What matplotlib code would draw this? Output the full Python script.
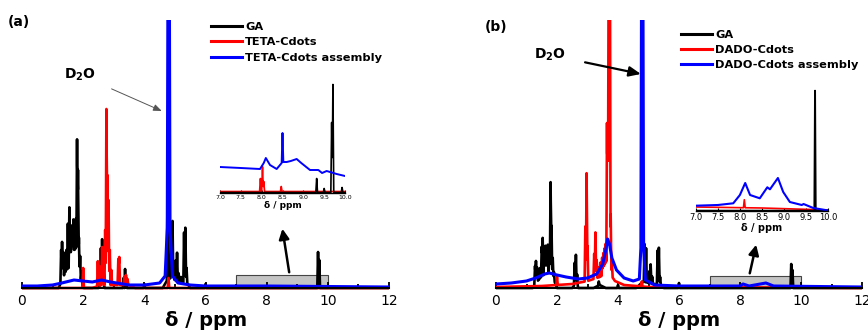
import numpy as np
import matplotlib
matplotlib.use('Agg')
import matplotlib.pyplot as plt
from matplotlib.patches import Rectangle

# ---------------- data (ppm, intensity in arbitrary units) ----------------
# Panel (a)
ga_a_bg_x = [0, 1.2, 1.28, 1.45, 1.6, 1.75, 1.9, 2.0, 2.5, 2.6, 2.7, 4.6, 4.75, 4.85, 5.0, 5.2, 5.4, 5.5, 12]
ga_a_bg_y = [0, 0, 6, 18, 22, 25, 12, 0, 0, 6, 0, 0, 8, 10, 8, 6, 5, 0, 0]
ga_a_pk_x = [1.28, 1.31, 1.35, 1.40, 1.45, 1.50, 1.55, 1.58, 1.62, 1.65, 1.68, 1.72, 1.76, 1.80, 1.83, 1.86,
             1.90, 1.95, 2.58, 2.62, 2.66, 3.32, 3.37, 3.41, 4.0, 4.76, 4.88, 4.92, 4.96, 5.03, 5.07, 5.12,
             5.20, 5.30, 5.34, 5.38, 6.0, 9.68, 9.72]
ga_a_pk_h = [32, 38, 25, 12, 20, 45, 60, 35, 40, 30, 45, 35, 45, 128, 100, 35,
             20, 10, 35, 44, 20, 10, 19, 10, 4, 95, 55, 58, 15, 20, 28, 8,
             5, 50, 55, 15, 4, 36, 28]
teta_pk_x = [2.0, 2.48, 2.52, 2.62, 2.66, 2.72, 2.76, 2.79, 2.83, 2.87, 2.92, 3.15, 3.18, 3.35, 3.40, 3.45, 4.79]
teta_pk_h = [20, 25, 20, 38, 22, 55, 176, 110, 85, 35, 15, 26, 28, 8, 10, 6, 10]
teta_bg_x = [0, 2.3, 2.6, 3.0, 3.5, 3.7, 12]
teta_bg_y = [0, 0, 3, 3, 3, 0, 0]
teta_asm_x = [0, 0.5, 1.0, 1.3, 1.7, 2.0, 2.3, 2.6, 2.9, 3.3, 3.5, 4.0, 4.5, 4.68, 4.75, 4.78, 4.81,
              4.84, 4.92, 5.1, 5.5, 6.0, 8.0, 12]
teta_asm_y = [2, 2, 3, 5, 8, 7, 6, 8, 6, 4, 3, 3, 5, 12, 60, 400, 400, 60, 12, 5, 3, 2, 2, 1]

# inset (a)
ins_a_asm_x = [7.0, 7.5, 7.96, 8.05, 8.10, 8.2, 8.36, 8.48, 8.50, 8.52, 8.6, 8.7, 8.84, 8.95, 9.16, 9.36,
               9.45, 9.56, 9.8, 10.0]
ins_a_asm_y = [26, 25, 24, 30, 35, 28, 24, 30, 60, 31, 31, 32, 34, 30, 23, 23, 20, 22, 19, 17]
ins_a_teta_pk_x = [7.97, 8.02, 8.05, 8.47]
ins_a_teta_pk_h = [13, 25, 10, 5]
ins_a_ga_pk_x = [9.32, 9.50, 9.68, 9.71, 9.93]
ins_a_ga_pk_h = [14, 4, 70, 108, 5]

# Panel (b)
ga_b_bg_x = [0, 1.2, 1.28, 1.45, 1.6, 1.75, 1.9, 2.0, 2.5, 2.6, 2.7, 3.2, 3.4, 3.6, 4.6, 4.8, 4.9, 5.0, 5.2, 5.4, 5.5, 12]
ga_b_bg_y = [0, 0, 4, 10, 14, 16, 8, 0, 0, 4, 0, 0, 3, 0, 0, 6, 6, 5, 4, 3, 0, 0]
ga_b_pk_x = [1.28, 1.31, 1.35, 1.45, 1.50, 1.53, 1.58, 1.62, 1.66, 1.70, 1.75, 1.79, 1.82, 1.86, 1.90,
             2.58, 2.62, 2.66, 3.37, 4.0, 4.87, 4.92, 5.03, 5.07, 5.12, 5.30, 5.34, 5.38, 6.0, 9.68, 9.72]
ga_b_pk_h = [18, 22, 14, 10, 30, 38, 22, 28, 20, 28, 22, 92, 50, 20, 8,
             22, 30, 12, 4, 3, 38, 34, 12, 19, 7, 34, 37, 8, 5, 24, 18]
dado_pk_x = [2.0, 2.93, 2.97, 3.00, 3.22, 3.26, 3.30, 3.35, 3.42, 3.48, 3.52, 3.56, 3.60, 3.64, 3.67,
             3.70, 3.73, 3.76, 3.80, 4.78]
dado_pk_h = [8, 55, 108, 35, 25, 46, 18, 10, 14, 18, 22, 26, 30, 150, 140, 400, 400, 60, 15, 5]
dado_bg_x = [0, 1.5, 2.5, 3.0, 3.4, 3.7, 3.9, 4.2, 5.0, 12]
dado_bg_y = [1, 2, 4, 7, 11, 16, 7, 3, 1, 0]
dado_asm_x = [0, 0.5, 1.0, 1.3, 1.6, 1.75, 2.0, 2.3, 2.7, 3.0, 3.3, 3.5, 3.6, 3.66, 3.72, 3.8, 3.95,
              4.2, 4.5, 4.7, 4.75, 4.78, 4.81, 4.84, 4.9, 5.2, 6.0, 7.5, 8.0, 8.1, 8.3, 8.85, 9.1, 12]
dado_asm_y = [4, 5, 7, 10, 14, 15, 13, 11, 9, 10, 14, 24, 38, 49, 44, 30, 18,
              10, 7, 9, 40, 400, 400, 40, 8, 3, 2, 2, 2, 4, 2, 5, 2, 1]

# inset (b)
ins_b_asm_x = [7.0, 7.5, 7.85, 8.0, 8.12, 8.23, 8.45, 8.62, 8.68, 8.86, 8.98, 9.13, 9.40, 9.44, 9.66, 10.0]
ins_b_asm_y = [5.3, 6, 7.7, 16, 28, 16, 12.7, 23.7, 21.7, 33, 19, 9, 6, 7, 3, 0.5]
ins_b_dado_bg_x = [7.0, 8.5, 10.0]
ins_b_dado_bg_y = [4, 3, 1]
ins_b_dado_pk_x = [8.10]
ins_b_dado_pk_h = [8]
ins_b_ga_pk_x = [9.70]
ins_b_ga_pk_h = [120]

labels_a = ['GA', 'TETA-Cdots', 'TETA-Cdots assembly']
labels_b = ['GA', 'DADO-Cdots', 'DADO-Cdots assembly']
main_ticks = [0, 2, 4, 6, 8, 10, 12]
inset_ticks = [7.0, 7.5, 8.0, 8.5, 9.0, 9.5, 10.0]


def spectrum(bg_x, bg_y, pk_x, pk_h, w, lo, hi):
    xs = set(bg_x) | {lo, hi}
    for p in pk_x:
        xs.update([p - w, p, p + w])
    xs = np.array(sorted(x for x in xs if lo <= x <= hi))
    ys = np.interp(xs, bg_x, bg_y)
    for p, h in zip(pk_x, pk_h):
        ys = ys + h * np.clip(1 - np.abs(xs - p) / w, 0, None)
    return xs, ys


W, H = 868, 333
fig = plt.figure(figsize=(W / 100, H / 100), dpi=100)

def fx(px):
    return px / W

def fy(py):
    return 1 - py / H

BLK, RED, BLU = 'black', '#ff0000', '#0000ff'


def main_axes(left_px, right_px):
    ax = fig.add_axes([fx(left_px), fy(290), (right_px - left_px) / W, 270 / H])
    ax.set_xlim(0, 12)
    ax.set_ylim(-2, 268)
    for s in ['top', 'left', 'right']:
        ax.spines[s].set_visible(False)
    ax.spines['bottom'].set_position(('data', 0))
    ax.spines['bottom'].set_linewidth(1.5)
    ax.set_yticks([])
    ax.set_xticks(main_ticks)
    ax.set_xticks(range(0, 13), minor=True)
    ax.tick_params(axis='x', which='both', direction='in', length=4, width=1.3, labelsize=10, pad=4)
    ax.tick_params(axis='x', which='minor', length=3)
    ax.patch.set_alpha(0)
    return ax


def inset_axes(left_px, right_px, base_py, top_py, lab_fs, tick_fs):
    ax = fig.add_axes([fx(left_px), fy(base_py), (right_px - left_px) / W, (base_py - top_py) / H])
    ax.set_xlim(7, 10)
    ax.set_ylim(0, base_py - top_py)
    for s in ['top', 'left', 'right']:
        ax.spines[s].set_visible(False)
    ax.spines['bottom'].set_linewidth(1.0)
    ax.set_yticks([])
    ax.set_xticks(inset_ticks)
    ax.set_xticklabels(['%.1f' % t for t in inset_ticks])
    ax.tick_params(axis='x', direction='in', length=2, width=0.8, labelsize=tick_fs, pad=1.5)
    ax.set_xlabel('δ / ppm', fontsize=lab_fs, fontweight='bold', labelpad=1)
    ax.patch.set_alpha(0)
    return ax

LW = 1.9
# ---------------- panel (a) ----------------
axa = main_axes(22, 389)
x, y = spectrum(ga_a_bg_x, ga_a_bg_y, ga_a_pk_x, ga_a_pk_h, 0.025, 0, 12)
axa.plot(x, y, color=BLK, lw=LW, label=labels_a[0])
x, y = spectrum(teta_bg_x, teta_bg_y, teta_pk_x, teta_pk_h, 0.025, 0, 12)
axa.plot(x, y, color=RED, lw=LW, label=labels_a[1])
axa.plot(teta_asm_x, teta_asm_y, color=BLU, lw=2.2, label=labels_a[2])
axa.add_patch(Rectangle((7, 0), 3, 13, facecolor='#c4c4c4', edgecolor='#444444', lw=0.8, zorder=0.5))
axa.annotate('', xy=(8.5, 62), xytext=(8.75, 13),
             arrowprops=dict(arrowstyle='-|>,head_length=0.6,head_width=0.3', color='black', lw=1.8))
axa.annotate(r'$\mathbf{D_2O}$', xy=(4.57, 177), xytext=(1.9, 213), fontsize=10, ha='center', va='center',
             arrowprops=dict(arrowstyle='-|>,head_length=0.5,head_width=0.2', color='#555555', lw=0.7,
                             shrinkA=10, shrinkB=0))
leg = axa.legend(loc='upper left', bbox_to_anchor=(fx(211), fy(22)), bbox_transform=fig.transFigure,
                 frameon=False, prop={'weight': 'bold', 'size': 8.2}, handlelength=2.7, handletextpad=0.3,
                 labelspacing=0.47, borderpad=0, borderaxespad=0)
for l in leg.get_lines():
    l.set_linewidth(2.2)
fig.text(fx(8), fy(22), '(a)', fontsize=10, fontweight='bold', va='center', ha='left')
fig.text(fx(206), fy(321), 'δ / ppm', fontsize=14, fontweight='bold', ha='center', va='center')

ia = inset_axes(220, 345, 193, 80, 6.5, 4.5)
x, y = spectrum([7, 10], [1.5, 1.5], ins_a_teta_pk_x, ins_a_teta_pk_h, 0.02, 7, 10)
ia.plot(x, y, color=RED, lw=1.2)
x, y = spectrum([7, 10], [0.5, 0.5], ins_a_ga_pk_x, ins_a_ga_pk_h, 0.02, 7, 10)
ia.plot(x, y, color=BLK, lw=1.2)
ia.plot(ins_a_asm_x, ins_a_asm_y, color=BLU, lw=1.4)

# ---------------- panel (b) ----------------
axb = main_axes(496, 862)
x, y = spectrum(ga_b_bg_x, ga_b_bg_y, ga_b_pk_x, ga_b_pk_h, 0.025, 0, 12)
axb.plot(x, y, color=BLK, lw=LW, label=labels_b[0])
x, y = spectrum(dado_bg_x, dado_bg_y, dado_pk_x, dado_pk_h, 0.025, 0, 12)
axb.plot(x, y, color=RED, lw=LW, label=labels_b[1])
axb.plot(dado_asm_x, dado_asm_y, color=BLU, lw=2.2, label=labels_b[2])
axb.add_patch(Rectangle((7, 0), 3, 12, facecolor='#c4c4c4', edgecolor='#444444', lw=0.8, zorder=0.5))
axb.annotate('', xy=(8.55, 46), xytext=(8.3, 12),
             arrowprops=dict(arrowstyle='-|>,head_length=0.6,head_width=0.3', color='black', lw=1.8))
axb.annotate(r'$\mathbf{D_2O}$', xy=(4.75, 214), xytext=(1.77, 233), fontsize=10, ha='center', va='center',
             arrowprops=dict(arrowstyle='-|>,head_length=0.7,head_width=0.3', color='black', lw=1.6,
                             shrinkA=12, shrinkB=0))
leg = axb.legend(loc='upper left', bbox_to_anchor=(fx(681), fy(30)), bbox_transform=fig.transFigure,
                 frameon=False, prop={'weight': 'bold', 'size': 8.2}, handlelength=2.7, handletextpad=0.3,
                 labelspacing=0.45, borderpad=0, borderaxespad=0)
for l in leg.get_lines():
    l.set_linewidth(2.2)
fig.text(fx(485), fy(27), '(b)', fontsize=10, fontweight='bold', va='center', ha='left')
fig.text(fx(679), fy(321), 'δ / ppm', fontsize=14, fontweight='bold', ha='center', va='center')

ib = inset_axes(695.7, 828.3, 211, 85, 7, 6)
x, y = spectrum(ins_b_dado_bg_x, ins_b_dado_bg_y, ins_b_dado_pk_x, ins_b_dado_pk_h, 0.02, 7, 10)
ib.plot(x, y, color=RED, lw=1.2)
x, y = spectrum([7, 10], [0.3, 0.3], ins_b_ga_pk_x, ins_b_ga_pk_h, 0.015, 7, 10)
ib.plot(x, y, color=BLK, lw=1.4)
ib.plot(ins_b_asm_x, ins_b_asm_y, color=BLU, lw=1.5)

fig.savefig('out.png', dpi=100)
